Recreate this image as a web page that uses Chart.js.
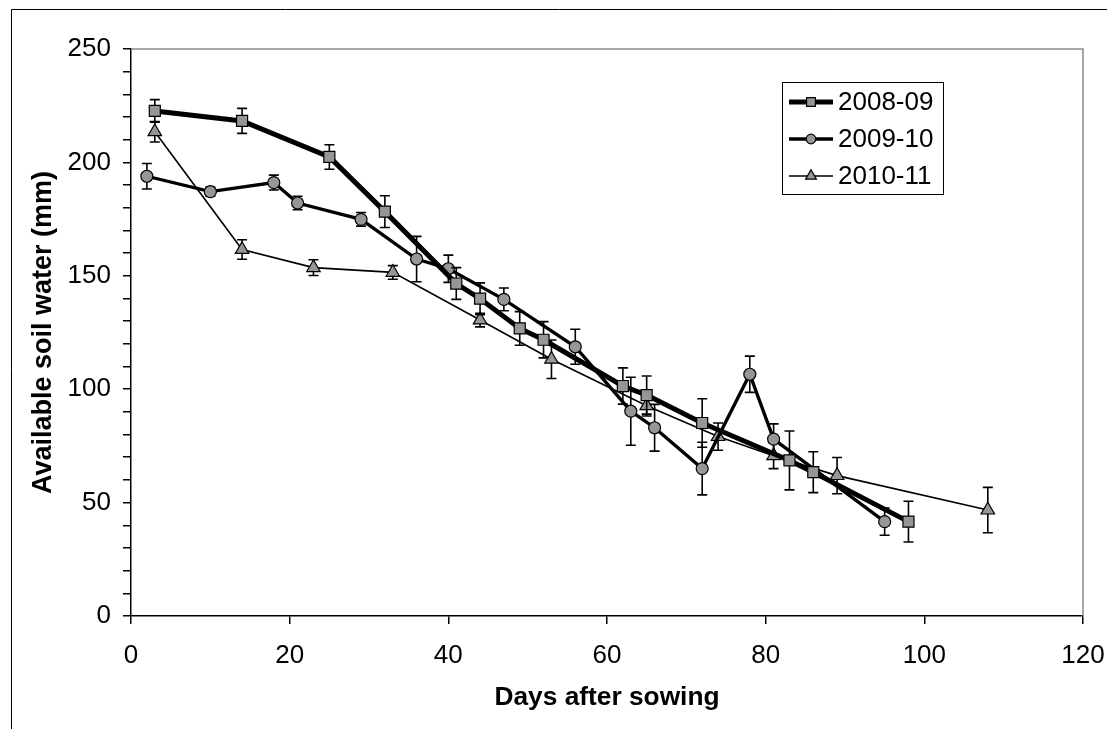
<!DOCTYPE html>
<html>
<head>
<meta charset="utf-8">
<script src="https://cdn.jsdelivr.net/npm/chart.js@4.4.1/dist/chart.umd.min.js"></script>
<style>
  html, body { margin: 0; padding: 0; background: #ffffff; }
  #wrap { width: 1107px; height: 729px; position: relative; }
</style>
</head>
<body>
<div id="wrap"><canvas id="c" width="1107" height="729"></canvas></div>
<script>
// ---- data ----
const seriesNames = ['2008-09', '2009-10', '2010-11'];

const days0809 = [3, 14, 25, 32, 41, 44, 49, 52, 62, 65, 72, 83, 86, 98];
const asw0809  = [222.7, 218.3, 202.4, 178.3, 146.6, 139.9, 126.8, 121.8, 101.4, 97.4, 85.1, 68.6, 63.4, 41.6];
const err0809  = [5, 5.5, 5.4, 7, 7, 7, 7.4, 8, 8, 8.4, 10.7, 13, 9, 9];

const days0910 = [2, 10, 18, 21, 29, 36, 40, 47, 56, 63, 66, 72, 78, 81, 95];
const asw0910  = [193.9, 187.1, 191.1, 182.1, 174.9, 157.4, 153.1, 139.6, 118.7, 90.3, 83.0, 65.0, 106.6, 78.0, 41.6];
const err0910  = [5.6, 2, 3.3, 3, 3, 10, 6, 5, 7.7, 15, 10.3, 11.6, 8, 6.7, 6];

const days1011 = [3, 14, 23, 33, 44, 53, 65, 74, 81, 89, 108];
const asw1011  = [213.5, 161.6, 153.6, 151.5, 130.5, 113.2, 92.7, 79.1, 70.7, 61.9, 46.7];
const err1011  = [4.5, 4.3, 3.5, 3, 3, 8.5, 4.5, 6, 5.7, 8, 10];

const xTicks = [0, 20, 40, 60, 80, 100, 120];
const yTicks = [0, 50, 100, 150, 200, 250];

const xTitle = 'Days after sowing';
const yTitle = 'Available soil water (mm)';

// ---- build ----
function pts(xs, ys) { return xs.map((x, i) => ({ x: x, y: ys[i] })); }
const errs = [err0809, err0910, err1011];

const FONT = "'Liberation Sans', Arial, sans-serif";
const MARKER_FILL = '#969696';

const datasets = [
  { label: seriesNames[0], data: pts(days0809, asw0809), borderColor: '#000', borderWidth: 5,
    pointStyle: 'rect', pointRadius: 7.8, pointBorderWidth: 1.2 },
  { label: seriesNames[1], data: pts(days0910, asw0910), borderColor: '#000', borderWidth: 3.3,
    pointStyle: 'circle', pointRadius: 6, pointBorderWidth: 1.2 },
  { label: seriesNames[2], data: pts(days1011, asw1011), borderColor: '#000', borderWidth: 1.6,
    pointStyle: 'triangle', pointRadius: 7.8, pointBorderWidth: 1.2 }
].map(d => Object.assign(d, {
  backgroundColor: MARKER_FILL, pointBackgroundColor: MARKER_FILL, pointBorderColor: '#000',
  fill: false, tension: 0, pointHoverRadius: d.pointRadius
}));

const errorBars = {
  id: 'errorBars',
  beforeDatasetDraw(chart, args) {
    const i = args.index;
    const e = errs[i];
    if (!e) return;
    const xs = chart.scales.x, ys = chart.scales.y;
    const ctx = chart.ctx;
    ctx.save();
    ctx.strokeStyle = '#000';
    ctx.lineWidth = 1.6;
    const data = chart.data.datasets[i].data;
    data.forEach((p, k) => {
      const px = xs.getPixelForValue(p.x);
      const top = ys.getPixelForValue(p.y + e[k]);
      const bot = ys.getPixelForValue(p.y - e[k]);
      ctx.beginPath();
      ctx.moveTo(px, top); ctx.lineTo(px, bot);
      ctx.moveTo(px - 5, top); ctx.lineTo(px + 5, top);
      ctx.moveTo(px - 5, bot); ctx.lineTo(px + 5, bot);
      ctx.stroke();
    });
    ctx.restore();
  }
};

const frame = {
  id: 'frame',
  afterDraw(chart) {
    const ctx = chart.ctx, a = chart.chartArea;
    ctx.save();
    // plot area top/right border (grey)
    ctx.strokeStyle = '#8a8a8a';
    ctx.lineWidth = 1.5;
    ctx.beginPath();
    ctx.moveTo(a.left, a.top); ctx.lineTo(a.right, a.top); ctx.lineTo(a.right, a.bottom);
    ctx.stroke();
    // outer chart frame
    ctx.strokeStyle = '#000';
    ctx.lineWidth = 1;
    ctx.beginPath();
    ctx.moveTo(11.5, 740); ctx.lineTo(11.5, 9.5); ctx.lineTo(1120, 9.5);
    ctx.stroke();

    // legend box
    const lx = 782, ly = 82, lw = 161, lh = 112;
    ctx.fillStyle = '#fff';
    ctx.fillRect(lx, ly, lw, lh);
    ctx.strokeStyle = '#000';
    ctx.lineWidth = 1;
    ctx.strokeRect(lx + 0.5, ly + 0.5, lw, lh);
    const rows = [102, 139, 176];
    chart.data.datasets.forEach((ds, i) => {
      const y = rows[i];
      ctx.strokeStyle = '#000';
      ctx.lineWidth = ds.borderWidth;
      ctx.beginPath();
      ctx.moveTo(789, y); ctx.lineTo(833, y);
      ctx.stroke();
      ctx.fillStyle = MARKER_FILL;
      ctx.strokeStyle = '#000';
      ctx.lineWidth = 1.2;
      Chart.helpers.drawPoint(ctx, { pointStyle: ds.pointStyle, radius: ds.pointRadius * 0.8, rotation: 0, borderWidth: 1.2 }, 811, y);
      ctx.fillStyle = '#000';
      ctx.font = '26px ' + FONT;
      ctx.textAlign = 'left';
      ctx.textBaseline = 'middle';
      ctx.fillText(ds.label, 838, y + 1);
    });
    ctx.restore();
  }
};

const whiteBg = {
  id: 'whiteBg',
  beforeDraw(chart) {
    const ctx = chart.ctx;
    ctx.save(); ctx.fillStyle = '#fff'; ctx.fillRect(0, 0, chart.width, chart.height); ctx.restore();
  }
};

new Chart(document.getElementById('c'), {
  type: 'line',
  data: { datasets: datasets },
  options: {
    responsive: false,
    animation: false,
    devicePixelRatio: 1,
    layout: { padding: { top: 49, right: 24, left: 0, bottom: 0 } },
    plugins: { legend: { display: false }, tooltip: { enabled: false } },
    scales: {
      x: {
        type: 'linear', min: 0, max: 120,
        afterFit(s) { s.height = 113; s.paddingLeft = 0; s.paddingRight = 0; },
        afterBuildTicks(s) { s.ticks = xTicks.map(v => ({ value: v })); },
        ticks: { font: { family: FONT, size: 26 }, color: '#000', padding: 16, autoSkip: false, maxRotation: 0 },
        grid: { display: true, drawOnChartArea: false, drawTicks: true, tickLength: 8, color: '#000', lineWidth: 1.5 },
        border: { display: true, color: '#000', width: 1.5 },
        title: { display: true, text: xTitle, font: { family: FONT, size: 26.3, weight: 'bold', lineHeight: 1.2 }, color: '#000', padding: { top: 0, bottom: 15 } }
      },
      y: {
        type: 'linear', min: 0, max: 250,
        afterFit(s) { s.width = 131; s.paddingTop = 0; s.paddingBottom = 0; },
        ticks: { stepSize: 10, font: { family: FONT, size: 26 }, color: '#000', padding: 12, autoSkip: false,
          callback: v => (yTicks.includes(v) ? String(v) : '') },
        grid: { display: true, drawOnChartArea: false, drawTicks: true, tickLength: 8, color: '#000', lineWidth: 1.5 },
        border: { display: true, color: '#000', width: 1.5 },
        title: { display: true, text: yTitle, font: { family: FONT, size: 27, weight: 'bold', lineHeight: 1.2 }, color: '#000', padding: { top: 27, bottom: 0 } }
      }
    }
  },
  plugins: [whiteBg, errorBars, frame]
});
</script>
</body>
</html>
